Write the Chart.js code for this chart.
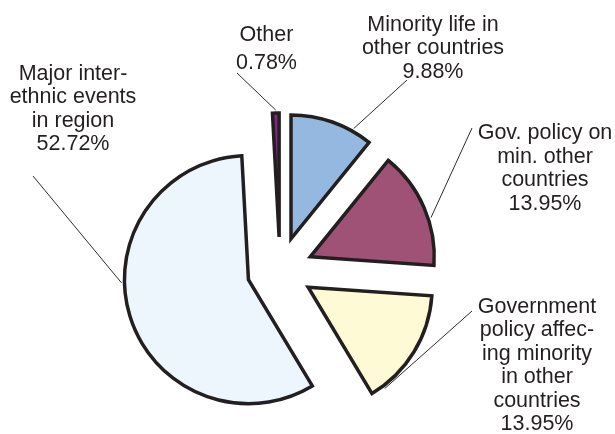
<!DOCTYPE html>
<html>
<head>
<meta charset="utf-8">
<script src="https://cdn.jsdelivr.net/npm/chart.js@4/dist/chart.umd.min.js"></script>
<style>
  html, body { margin: 0; padding: 0; background: #fff; }
  canvas { display: block; }
</style>
</head>
<body>
<canvas id="myChart" width="615" height="434"></canvas>
<script>
// slices go clockwise from 12 o'clock
let categories = [
  "Minority life in other countries",
  "Gov. policy on min. other countries",
  "Government policy affecing minority in other countries",
  "Major inter-ethnic events in region",
  "Other"
]
let shares = [9.88, 13.95, 13.95, 52.72, 0.78]
let labelLines = [
  ["Minority life in", "other countries"],
  ["Gov. policy on", "min. other", "countries"],
  ["Government", "policy affec-", "ing minority", "in other", "countries"],
  ["Major inter-", "ethnic events", "in region"],
  ["Other"]
]

let fills = ["#95b8e0", "#9f5276", "#fffad6", "#eef6fd", "#7d2a80"]

// where each text block sits: centre x, first baseline, line step,
// end of the leader line near the text, and how far along the slice the leader lands
let labelSpots = [
  { x: 433, y: 31, step: 23.3, lx: 407, ly: 80, along: 0.76 },
  { x: 545, y: 139, step: 23.7, lx: 472, ly: 128, along: 0.6 },
  { x: 537, y: 313, step: 23.4, lx: 472, ly: 311, along: 0.89 },
  { x: 73, y: 80, step: 23.4, lx: 33, ly: 176, along: 0.575 },
  { x: 266.5, y: 41, step: 28, lx: 237, ly: 73, along: 0.5 }
]

let explodeBy = 33

// push every slice out from the centre along its middle angle
let explodePlugin = {
  id: "explode",
  afterDatasetUpdate(chart, args) {
    args.meta.data.forEach(function(arc) {
      let mid = (arc.startAngle + arc.endAngle) / 2
      arc.x += Math.cos(mid) * explodeBy
      arc.y += Math.sin(mid) * explodeBy
    })
  }
}

let labelPlugin = {
  id: "sliceLabels",
  afterDraw(chart) {
    let ctx = chart.ctx
    let arcs = chart.getDatasetMeta(0).data
    ctx.save()
    arcs.forEach(function(arc, i) {
      let spot = labelSpots[i]
      let a = arc.startAngle + spot.along * (arc.endAngle - arc.startAngle)
      let r = arc.outerRadius + 3
      ctx.beginPath()
      ctx.strokeStyle = "#2b2b2b"
      ctx.lineWidth = 1
      ctx.moveTo(spot.lx, spot.ly)
      ctx.lineTo(arc.x + Math.cos(a) * r, arc.y + Math.sin(a) * r)
      ctx.stroke()

      let lines = labelLines[i].concat([shares[i].toFixed(2) + "%"])
      ctx.fillStyle = "#231f20"
      ctx.font = "21.5px 'Liberation Sans', Arial, sans-serif"
      ctx.textAlign = "center"
      ctx.textBaseline = "alphabetic"
      lines.forEach(function(t, k) {
        ctx.fillText(t, spot.x, spot.y + k * spot.step)
      })
    })
    ctx.restore()
  }
}

let data = {
  labels: categories,
  datasets: [{
    data: shares,
    backgroundColor: fills,
    borderColor: "#231f20",
    borderWidth: 3.5,
    borderJoinStyle: "miter"
  }]
}

let config = {
  type: "pie",
  data: data,
  options: {
    responsive: false,
    animation: false,
    radius: 124,
    clip: false,
    layout: { padding: { left: 0, right: 55, top: 106, bottom: 0 } },
    plugins: {
      legend: { display: false },
      tooltip: { enabled: false }
    }
  },
  plugins: [explodePlugin, labelPlugin]
}

let myChart = new Chart(document.getElementById("myChart"), config)
</script>
</body>
</html>
